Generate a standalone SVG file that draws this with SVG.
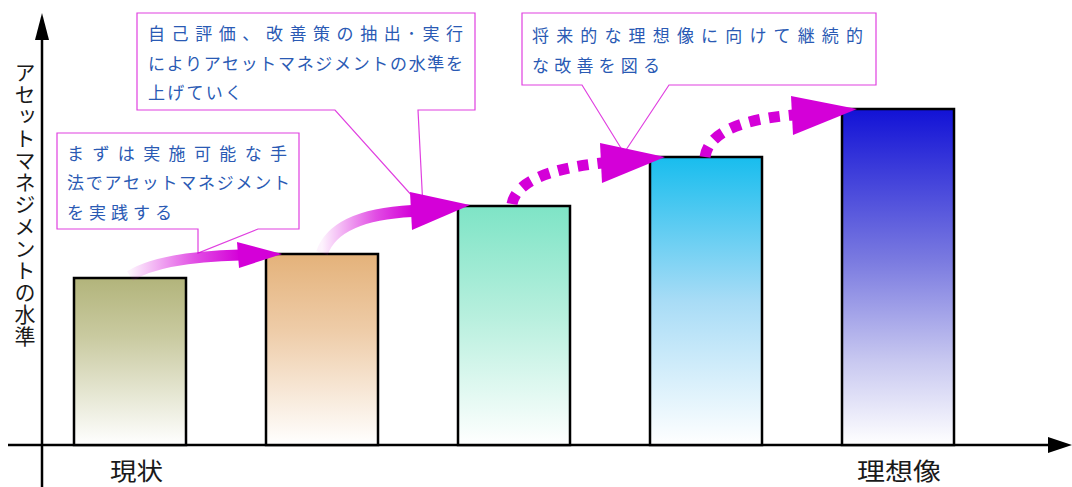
<svg xmlns="http://www.w3.org/2000/svg" width="1072" height="487" viewBox="0 0 1072 487">
<style>
.bar{stroke:#000;stroke-width:2.5}
.call{fill:#fff;stroke:#e040e0;stroke-width:1.2}
.ct{font-family:"Noto Sans CJK JP","Noto Sans",sans-serif;font-size:17px;fill:#2a5ab4}
.ax{stroke:#000;stroke-width:2.5;fill:none}
.lbl{font-family:"Noto Sans CJK JP","Noto Sans",sans-serif;fill:#1a1a1a}
.dot{fill:none;stroke:#d400d8;stroke-width:11;stroke-dasharray:11 9}
.head{fill:#d400d8}
</style>
<defs>
<linearGradient id="g1" x1="0" y1="0" x2="0" y2="1"><stop offset="0" stop-color="#b2b47b"/><stop offset="0.35" stop-color="#c9caa0"/><stop offset="1" stop-color="#fff"/></linearGradient>
<linearGradient id="g2" x1="0" y1="0" x2="0" y2="1"><stop offset="0" stop-color="#e4b27a"/><stop offset="0.4" stop-color="#eecca8"/><stop offset="1" stop-color="#fff"/></linearGradient>
<linearGradient id="g3" x1="0" y1="0" x2="0" y2="1"><stop offset="0" stop-color="#7ee4c6"/><stop offset="0.45" stop-color="#b6efdd"/><stop offset="1" stop-color="#fff"/></linearGradient>
<linearGradient id="g4" x1="0" y1="0" x2="0" y2="1"><stop offset="0" stop-color="#18bdee"/><stop offset="0.5" stop-color="#a8dcf6"/><stop offset="1" stop-color="#fff"/></linearGradient>
<linearGradient id="g5" x1="0" y1="0" x2="0" y2="1"><stop offset="0" stop-color="#1212d6"/><stop offset="0.45" stop-color="#7a7ae0"/><stop offset="0.75" stop-color="#c8c8f0"/><stop offset="1" stop-color="#fff"/></linearGradient>
<linearGradient id="a1" gradientUnits="userSpaceOnUse" x1="130" y1="0" x2="240" y2="0"><stop offset="0" stop-color="#d400d8" stop-opacity="0.05"/><stop offset="0.6" stop-color="#d400d8" stop-opacity="0.7"/><stop offset="1" stop-color="#d400d8"/></linearGradient>
<linearGradient id="a2" gradientUnits="userSpaceOnUse" x1="322" y1="0" x2="412" y2="0"><stop offset="0" stop-color="#d400d8" stop-opacity="0.05"/><stop offset="0.6" stop-color="#d400d8" stop-opacity="0.7"/><stop offset="1" stop-color="#d400d8"/></linearGradient>
</defs>
<rect width="1072" height="487" fill="#fff"/>
<g id="axes">
<line class="ax" x1="42" y1="38" x2="42" y2="487"/>
<polygon points="35,40 42,13 49,40" fill="#000"/>
<line class="ax" x1="8" y1="445" x2="1050" y2="445"/>
<polygon points="1048,437 1072,445 1048,453" fill="#000"/>
</g>
<g id="bar1"><rect class="bar" x="74" y="278" width="112" height="167" fill="url(#g1)"/></g>
<g id="bar2"><rect class="bar" x="266" y="254" width="112" height="191" fill="url(#g2)"/></g>
<g id="bar3"><rect class="bar" x="458" y="206" width="112" height="239" fill="url(#g3)"/></g>
<g id="bar4"><rect class="bar" x="650" y="157" width="112" height="288" fill="url(#g4)"/></g>
<g id="bar5"><rect class="bar" x="842" y="109" width="112" height="336" fill="url(#g5)"/></g>
<g id="callout1">
<path class="call" d="M57,133 H299 V229 H258 L198,253 V229 H57 Z"/>
<text class="ct" x="67" y="159.5" textLength="220" lengthAdjust="spacing">まずは実施可能な手</text>
<text class="ct" x="67" y="188.5" textLength="223" lengthAdjust="spacing">法でアセットマネジメント</text>
<text class="ct" x="67" y="218.5" textLength="105" lengthAdjust="spacing">を実践する</text>
</g>
<g id="callout2">
<path class="call" d="M137,13 H475 V110 H418 L423,208 L335,110 H137 Z"/>
<text class="ct" x="148" y="39.5" textLength="315" lengthAdjust="spacing">自己評価、改善策の抽出･実行</text>
<text class="ct" x="148" y="69.5" textLength="315" lengthAdjust="spacing">によりアセットマネジメントの水準を</text>
<text class="ct" x="148" y="98.5" textLength="94" lengthAdjust="spacing">上げていく</text>
</g>
<g id="callout3">
<path class="call" d="M522,13 H876 V85 H669 L624,153 L582,85 H522 Z"/>
<text class="ct" x="532" y="41.5" textLength="331" lengthAdjust="spacing">将来的な理想像に向けて継続的</text>
<text class="ct" x="532" y="71.5" textLength="128" lengthAdjust="spacing">な改善を図る</text>
</g>
<g id="connectors">
<path d="M130,276 Q160,257 240,255" fill="none" stroke="url(#a1)" stroke-width="11"/>
<polygon class="head" points="237,242 282,254 239,268"/>
<path d="M322,253 Q335,215 412,211" fill="none" stroke="url(#a2)" stroke-width="12"/>
<polygon class="head" points="410,192 470,205 412,230"/>
<path class="dot" d="M512,204 Q518,172 602,163"/>
<polygon class="head" points="600,143 665,157 602,183"/>
<path class="dot" d="M705,157 Q710,122 793,115"/>
<polygon class="head" points="791,96 857,109 793,135"/>
</g>
<g id="labels">
<text class="lbl" x="25" y="62" font-size="21" writing-mode="vertical-rl" textLength="285" lengthAdjust="spacing">アセットマネジメントの水準</text>
<text class="lbl" x="110" y="480" font-size="24" textLength="53" lengthAdjust="spacingAndGlyphs">現状</text>
<text class="lbl" x="857" y="480" font-size="24" textLength="84" lengthAdjust="spacingAndGlyphs">理想像</text>
</g>
</svg>
